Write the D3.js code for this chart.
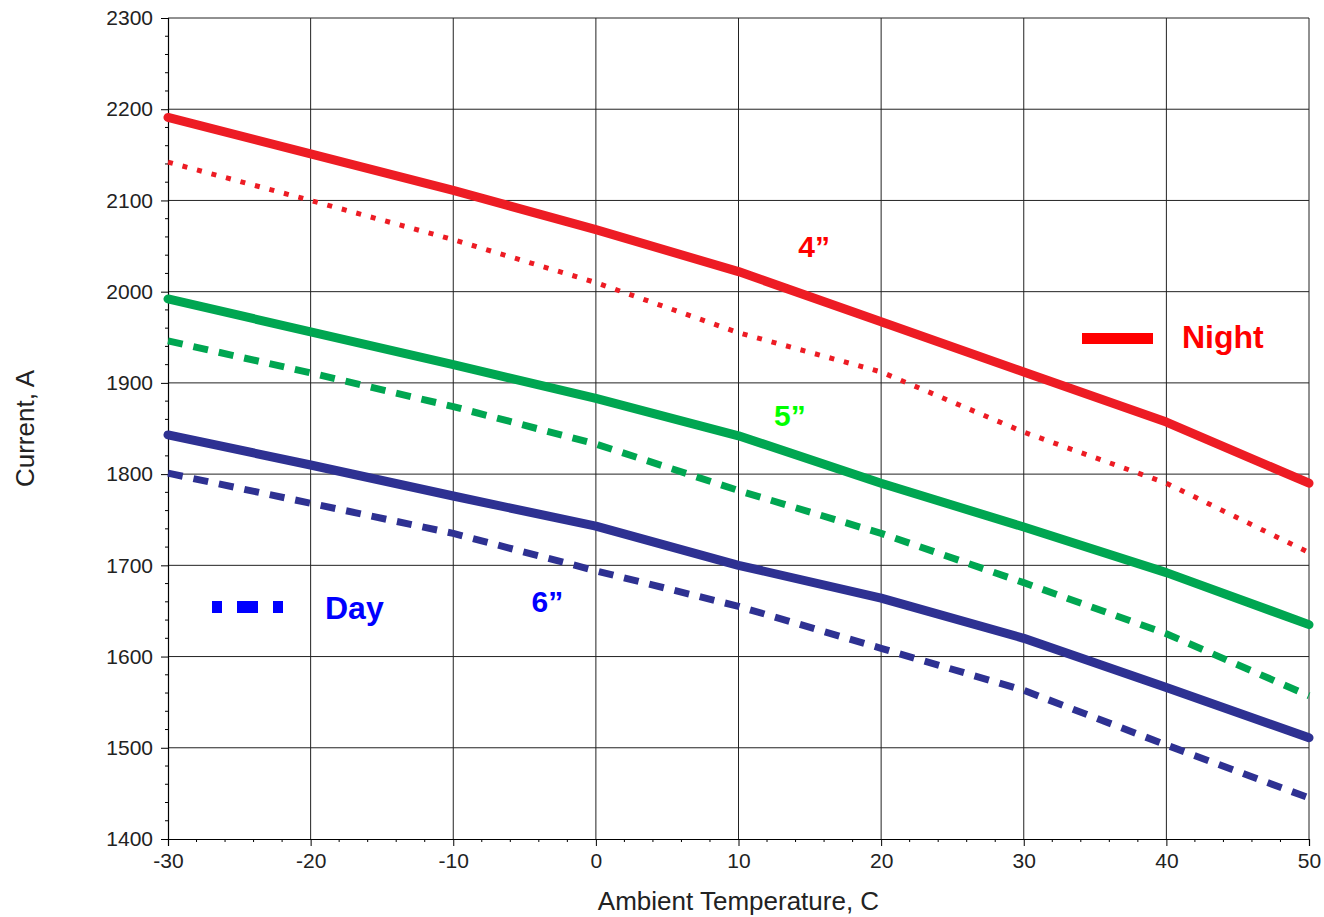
<!DOCTYPE html>
<html>
<head>
<meta charset="utf-8">
<script src="https://cdn.jsdelivr.net/npm/d3@7"></script>
<style>
  body { margin: 0; background: #fff; }
  text { font-family: Arial, "Liberation Sans", sans-serif; }
</style>
</head>
<body>
<svg id="chart" width="1324" height="917"></svg>
<script>
// Data
const temps = [-30, -20, -10, 0, 10, 20, 30, 40, 50];
const night4 = [2191, 2151, 2111, 2068, 2022, 1967, 1912, 1857, 1790];
const day4 = [2142, 2100, 2057, 2010, 1955, 1912, 1846, 1790, 1714];
const night5 = [1992, 1956, 1920, 1883, 1842, 1790, 1742, 1692, 1635];
const day5 = [1946, 1911, 1874, 1833, 1782, 1735, 1681, 1625, 1557];
const night6 = [1843, 1810, 1776, 1743, 1700, 1664, 1620, 1566, 1511];
const day6 = [1801, 1768, 1735, 1694, 1655, 1609, 1563, 1503, 1445];
const xTicks = [-30, -20, -10, 0, 10, 20, 30, 40, 50];
const yTicks = [1400, 1500, 1600, 1700, 1800, 1900, 2000, 2100, 2200, 2300];

const svg = d3.select('#chart');
const pLeft = 168, pRight = 1309, pTop = 18, pBottom = 839;

const x = d3.scaleLinear().domain([-30, 50]).range([pLeft, pRight]);
const y = d3.scaleLinear().domain([1400, 2300]).range([pBottom, pTop]);

// grid
const grid = svg.append('g');
grid.append('g').selectAll('line')
  .data(xTicks.slice(1))
  .join('line')
  .attr('x1', d => x(d)).attr('x2', d => x(d))
  .attr('y1', pTop).attr('y2', pBottom)
  .attr('stroke', '#222').attr('stroke-width', 1);
grid.append('g').selectAll('line')
  .data(yTicks.slice(1))
  .join('line')
  .attr('x1', pLeft).attr('x2', pRight)
  .attr('y1', d => y(d)).attr('y2', d => y(d))
  .attr('stroke', '#222').attr('stroke-width', 1);

// minor ticks
const xMinor = d3.range(-30, 50.1, 2).filter(d => d % 10 !== 0);
const yMinor = d3.range(1400, 2300.1, 20).filter(d => d % 100 !== 0);
svg.append('g').selectAll('line')
  .data(xMinor)
  .join('line')
  .attr('x1', d => x(d)).attr('x2', d => x(d))
  .attr('y1', pBottom).attr('y2', pBottom + 3)
  .attr('stroke', '#000');
svg.append('g').selectAll('line')
  .data(yMinor)
  .join('line')
  .attr('x1', pLeft - 3).attr('x2', pLeft)
  .attr('y1', d => y(d)).attr('y2', d => y(d))
  .attr('stroke', '#000');

// axes (plain hyphen for negatives, like the original)
const fmt = d => String(d);
const xAxis = svg.append('g')
  .attr('transform', `translate(0,${pBottom})`)
  .call(d3.axisBottom(x).tickValues(xTicks).tickSize(7).tickPadding(7).tickFormat(fmt));
const yAxis = svg.append('g')
  .attr('transform', `translate(${pLeft},0)`)
  .call(d3.axisLeft(y).tickValues(yTicks).tickSize(7).tickPadding(8).tickFormat(fmt));
[xAxis, yAxis].forEach(a => {
  a.select('.domain').attr('stroke', '#000').attr('stroke-width', 1.2);
  a.selectAll('.tick line').attr('stroke', '#000');
  a.selectAll('.tick text')
    .attr('fill', '#222')
    .style('font-size', '21px')
    .style('font-family', 'Arial, "Liberation Sans", sans-serif');
});

// series
const line = d3.line().x((d, i) => x(temps[i])).y(d => y(d));
const series = [
  { values: night4, color: '#ed1c24', width: 9, dash: null },
  { values: day4, color: '#ed1c24', width: 5, dash: '5,10' },
  { values: night5, color: '#00a651', width: 9, dash: null },
  { values: day5, color: '#00a651', width: 7, dash: '15,11' },
  { values: night6, color: '#2e3192', width: 9, dash: null },
  { values: day6, color: '#2e3192', width: 7, dash: '15,11' }
];
svg.append('g').selectAll('path')
  .data(series)
  .join('path')
  .attr('d', d => line(d.values))
  .attr('fill', 'none')
  .attr('stroke', d => d.color)
  .attr('stroke-width', d => d.width)
  .attr('stroke-dasharray', d => d.dash)
  .attr('stroke-linecap', d => d.dash ? 'butt' : 'round')
  .attr('stroke-linejoin', 'round');

// labels on lines
const labels = [
  { text: '4\u201D', color: '#ff0000', t: 15.3, v: 2038 },
  { text: '5\u201D', color: '#00ff00', t: 13.6, v: 1853 },
  { text: '6\u201D', color: '#0000ff', t: -3.4, v: 1649 }
];
svg.append('g').selectAll('text')
  .data(labels)
  .join('text')
  .attr('x', d => x(d.t))
  .attr('y', d => y(d.v))
  .attr('text-anchor', 'middle')
  .attr('fill', d => d.color)
  .style('font-size', '30px')
  .style('font-weight', 'bold')
  .text(d => d.text);

// legend
svg.append('line')
  .attr('x1', 1082).attr('x2', 1153)
  .attr('y1', 338.5).attr('y2', 338.5)
  .attr('stroke', '#ff0000').attr('stroke-width', 11);
svg.append('text')
  .attr('x', 1182).attr('y', 348)
  .attr('fill', '#ff0000')
  .style('font-size', '32px').style('font-weight', 'bold')
  .text('Night');
svg.append('line')
  .attr('x1', 212).attr('x2', 283)
  .attr('y1', 607).attr('y2', 607)
  .attr('stroke', '#0000ff').attr('stroke-width', 12)
  .attr('stroke-dasharray', '10,15,21,15,10');
svg.append('text')
  .attr('x', 325).attr('y', 619)
  .attr('fill', '#0000ff')
  .style('font-size', '32px').style('font-weight', 'bold')
  .text('Day');

// axis titles
svg.append('text')
  .attr('x', x(10)).attr('y', 910)
  .attr('text-anchor', 'middle')
  .attr('fill', '#222')
  .style('font-size', '26px')
  .text('Ambient Temperature, C');
svg.append('text')
  .attr('transform', `translate(34,${(pTop + pBottom) / 2}) rotate(-90)`)
  .attr('text-anchor', 'middle')
  .attr('fill', '#222')
  .style('font-size', '26px')
  .text('Current, A');
</script>
</body>
</html>
